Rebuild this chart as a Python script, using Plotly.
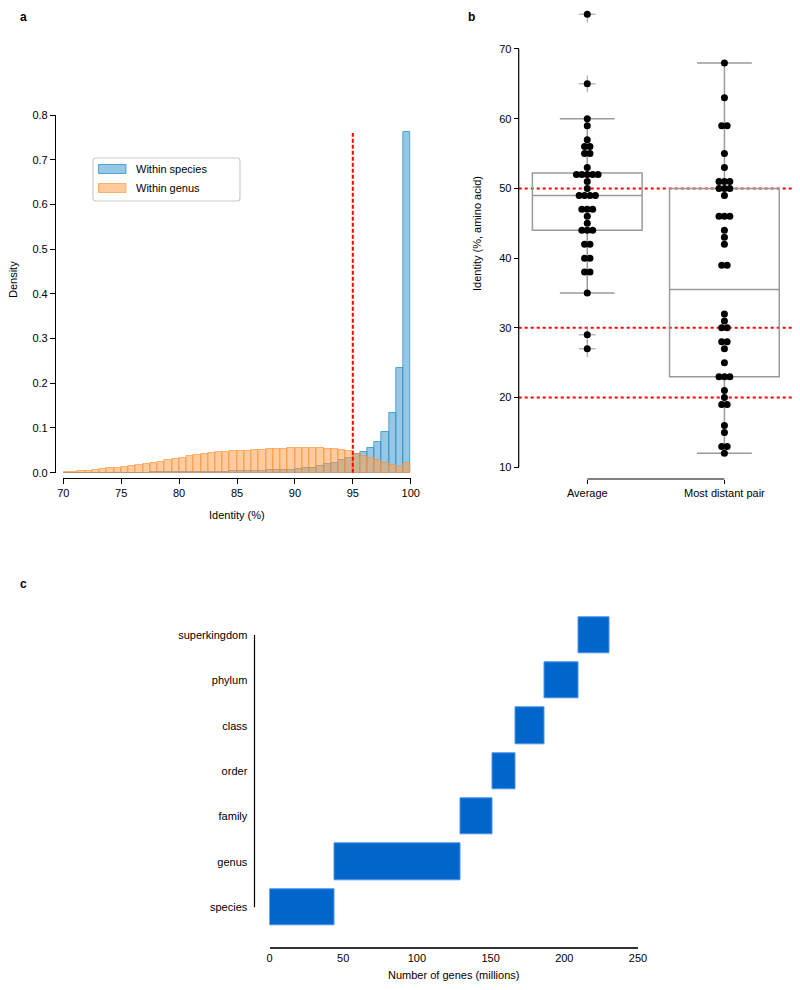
import numpy as np
import plotly.graph_objects as go

# ---------------- data ----------------
# panel a: histogram densities, 48 bins of width 0.625 from 70 to 100
bin_start = 70.0
bin_width = 0.625
within_species = [0, 0, 0, 0, 0, 0, 0, 0, 0, 0, 0,
                  0.0003, 0.0005, 0.0007, 0.0009, 0.0011, 0.0013, 0.0015, 0.0017,
                  0.0019, 0.0021, 0.0023, 0.0026, 0.0029, 0.0032, 0.0036, 0.004,
                  0.0045, 0.005, 0.0056, 0.0063, 0.0071, 0.008, 0.0095, 0.0115,
                  0.014, 0.0185, 0.022, 0.028, 0.034, 0.041, 0.047, 0.056, 0.0695,
                  0.0905, 0.133, 0.235, 0.763]
within_genus = [0.0015, 0.002, 0.003, 0.0045, 0.006, 0.0075, 0.0095, 0.0115, 0.013,
                0.0155, 0.018, 0.020, 0.022, 0.025, 0.028, 0.031, 0.034, 0.037,
                0.040, 0.042, 0.044, 0.0455, 0.047, 0.0475, 0.0485, 0.049, 0.050,
                0.051, 0.052, 0.053, 0.054, 0.0545, 0.055, 0.056, 0.055, 0.0545,
                0.054, 0.053, 0.051, 0.048, 0.042, 0.038, 0.032, 0.028, 0.022,
                0.017, 0.012, 0.021]
hist_names = ["Within species", "Within genus"]
threshold_a = 95

# panel b: identity per group
groups_b = ["Average", "Most distant pair"]
average_identity = [75, 65, 60, 59, 57, 56, 56, 55, 55, 53, 52, 52, 52, 52, 52, 51, 50,
                    49, 49, 49, 49, 47, 47, 47, 46, 45, 44, 44, 44, 42, 42, 40, 40,
                    38, 38, 35, 29, 27]
distant_identity = [68, 63, 59, 59, 55, 53, 51, 51, 51, 50, 50, 50, 49, 46, 46, 46, 44,
                    43, 42, 39, 39, 32, 31, 30, 30, 28, 28, 27, 25, 23, 23, 23, 21, 20,
                    19, 19, 16, 15, 13, 13, 12]
box_q1 = [44, 23]
box_median = [49, 35.5]
box_q3 = [52.2, 50]
box_low = [35, 12]
box_high = [60, 68]
ref_lines_b = [50, 30, 20]

# panel c: genes per taxonomic level (millions)
levels = ["species", "genus", "family", "order", "class", "phylum", "superkingdom"]
genes_millions = [44.3, 85.4, 21.8, 15.2, 20.0, 23.2, 20.7]

# ---------------- layout helpers ----------------
W, H = 800, 990
OFF = 8  # page body margin of the rendered html
def px(x):
    return (x - OFF) / W
def py(y):
    return 1 - (y - OFF) / H

FONT = "Liberation Sans, Arial, Helvetica, sans-serif"
hist_fill = ["rgba(86,167,214,0.62)", "rgba(255,160,80,0.55)"]
hist_edge = ["rgba(40,140,205,0.75)", "rgba(255,140,40,0.6)"]
fig = go.Figure()

# ---------------- panel a ----------------
centers = bin_start + bin_width / 2 + bin_width * np.arange(len(within_species))
for i, vals in enumerate([within_species, within_genus]):
    fig.add_trace(go.Bar(x=centers, y=vals, width=bin_width, name=hist_names[i],
                         marker=dict(color=hist_fill[i],
                                     line=dict(color=hist_edge[i], width=1)),
                         showlegend=False, xaxis="x", yaxis="y"))

# ---------------- panel b ----------------
fig.add_trace(go.Box(x=[0, 1], q1=box_q1, median=box_median, q3=box_q3,
                     lowerfence=box_low, upperfence=box_high, width=0.8,
                     whiskerwidth=0.5, line=dict(color="#9a9a9a", width=1.5),
                     fillcolor="rgba(0,0,0,0)", boxpoints=False, showlegend=False,
                     hoverinfo="skip", xaxis="x2", yaxis="y2"))

def swarm(vals, step):
    vals = np.asarray(vals, dtype=float)
    offs = np.zeros(len(vals))
    for v in np.unique(vals):
        idx = np.where(vals == v)[0]
        n = len(idx)
        offs[idx] = (np.arange(n) - (n - 1) / 2) * step
    return offs

step = 5.4 / 137.0
for gi, vals in enumerate([average_identity, distant_identity]):
    vals = np.asarray(vals, dtype=float)
    out = vals[(vals > box_high[gi]) | (vals < box_low[gi])]
    fig.add_trace(go.Scatter(x=np.full(len(out), gi), y=out, mode="markers",
                             marker=dict(symbol="cross-thin", size=12,
                                         line=dict(color="#9a9a9a", width=1)),
                             showlegend=False, hoverinfo="skip",
                             xaxis="x2", yaxis="y2"))
    fig.add_trace(go.Scatter(x=gi + swarm(vals, step), y=vals, mode="markers",
                             marker=dict(color="black", size=7),
                             cliponaxis=False, showlegend=False,
                             xaxis="x2", yaxis="y2"))

# ---------------- panel c ----------------
starts = np.concatenate([[0], np.cumsum(genes_millions)[:-1]])
fig.add_trace(go.Bar(y=levels, x=genes_millions, base=starts, orientation="h", width=0.8,
                     marker=dict(color="#0066cc", line=dict(color="#4d94e6", width=1)),
                     showlegend=False, xaxis="x3", yaxis="y3"))

# ---------------- shapes ----------------
shapes = [dict(type="line", xref="x", yref="y", x0=threshold_a, x1=threshold_a,
               y0=0, y1=0.76, line=dict(color="red", width=2, dash="4px,2px"),
               layer="above")]
for v in ref_lines_b:
    shapes.append(dict(type="line", xref="paper", yref="y2", x0=px(518.7), x1=px(793),
                       y0=v, y1=v, line=dict(color="red", width=2, dash="dot"),
                       layer="below"))
# panel b axis lines (y axis 10-70, category bracket)
shapes.append(dict(type="line", xref="paper", yref="y2", x0=px(518.7), x1=px(518.7),
                   y0=10, y1=70, line=dict(color="black", width=1.2)))
shapes.append(dict(type="line", xref="x2", yref="paper", x0=0, x1=1,
                   y0=py(479), y1=py(479), line=dict(color="black", width=1.2)))
# panel c y axis line (species to superkingdom)
shapes.append(dict(type="line", xref="paper", yref="y3", x0=px(254.5), x1=px(254.5),
                   y0=0, y1=len(levels) - 1, line=dict(color="black", width=1.2)))

# legend of panel a (box, swatches)
lx0, lx1, ly0, ly1, r = 93, 240, 158, 201, 3
path = (f"M {px(lx0 + r)},{py(ly0)} L {px(lx1 - r)},{py(ly0)} "
        f"Q {px(lx1)},{py(ly0)} {px(lx1)},{py(ly0 + r)} L {px(lx1)},{py(ly1 - r)} "
        f"Q {px(lx1)},{py(ly1)} {px(lx1 - r)},{py(ly1)} L {px(lx0 + r)},{py(ly1)} "
        f"Q {px(lx0)},{py(ly1)} {px(lx0)},{py(ly1 - r)} L {px(lx0)},{py(ly0 + r)} "
        f"Q {px(lx0)},{py(ly0)} {px(lx0 + r)},{py(ly0)} Z")
shapes.append(dict(type="path", xref="paper", yref="paper", path=path,
                   line=dict(color="#cccccc", width=1.2), fillcolor="white",
                   layer="above"))
legend_rows = [169, 188]
for i, yy in enumerate(legend_rows):
    shapes.append(dict(type="rect", xref="paper", yref="paper",
                       x0=px(98.5), x1=px(126), y0=py(yy - 4.5), y1=py(yy + 4.5),
                       fillcolor=hist_fill[i], line=dict(color=hist_edge[i], width=1),
                       layer="above"))

tickfont = dict(family=FONT, size=11, color="black")

def ax(**kw):
    d = dict(showgrid=False, zeroline=False, tickfont=tickfont, linecolor="black",
             tickcolor="black", anchor="free", automargin=False)
    d.update(kw)
    return d

annotations = [
    dict(text="<b>a</b>", x=px(23.5), y=py(17)),
    dict(text="<b>b</b>", x=px(471), y=py(17)),
    dict(text="<b>c</b>", x=px(23), y=py(584)),
    dict(text="Density", x=px(13), y=py(280), textangle=-90),
    dict(text="Identity (%)", x=px(237), y=py(515)),
    dict(text="Identity (%, amino acid)", x=px(477), y=py(234), textangle=-90),
    dict(text="Number of genes (millions)", x=px(453), y=py(975)),
]
for a in annotations:
    a.update(xanchor="center")
for i, yy in enumerate(legend_rows):
    annotations.append(dict(text=hist_names[i], x=px(134), y=py(yy), xanchor="left"))
for a in annotations:
    a.update(xref="paper", yref="paper", showarrow=False,
             yanchor="middle", font=dict(family=FONT, size=11, color="black"))
for a in annotations[:3]:
    a["font"] = dict(family=FONT, size=12, color="black")

# y range of panel b extended above 70 so the 75 point is drawn
yb_top = 75.5
yb_top_px = 49 - (yb_top - 70) * (467.3 - 49) / 60

fig.update_layout(
    template="none",
    width=W, height=H, margin=dict(l=0, r=0, t=0, b=0, pad=0, autoexpand=False),
    paper_bgcolor="white", plot_bgcolor="rgba(0,0,0,0)",
    barmode="overlay", bargap=0, showlegend=False,
    font=dict(family=FONT, size=11, color="black"),
    shapes=shapes, annotations=annotations,
    xaxis=ax(domain=[px(63.3), px(410.7)], range=[70, 100], position=py(477.7),
             showline=True, linewidth=1.2, ticks="outside", ticklen=5,
             tickvals=[70, 75, 80, 85, 90, 95, 100]),
    yaxis=ax(domain=[py(472.7), py(115)], range=[0, 0.8], position=px(55),
             showline=True, linewidth=1.2, ticks="outside", ticklen=5,
             tickvals=[0, 0.1, 0.2, 0.3, 0.4, 0.5, 0.6, 0.7, 0.8], tickformat=".1f"),
    xaxis2=ax(domain=[px(518.7), px(793)], range=[-0.5, 1.5], position=py(479),
              showline=False, ticks="outside", ticklen=4, tickwidth=1.2,
              tickvals=[0, 1], ticktext=groups_b),
    yaxis2=ax(domain=[py(467.3), py(yb_top_px)], range=[10, yb_top], position=px(518.7),
              showline=False, ticks="outside", ticklen=5, tickwidth=1.2,
              tickvals=[10, 20, 30, 40, 50, 60, 70]),
    xaxis3=ax(domain=[px(269.5), px(638)], range=[0, 250], position=py(947.7),
              showline=True, linewidth=2, linecolor="#333333", ticks="",
              tickvals=[0, 50, 100, 150, 200, 250]),
    yaxis3=ax(domain=[py(930), py(612.3)], type="category", categoryorder="array",
              categoryarray=levels, range=[-0.5, len(levels) - 0.5], position=px(254.5),
              showline=False, ticks="outside", ticklen=5, tickcolor="rgba(0,0,0,0)"),
)

fig.write_html("out.html")
